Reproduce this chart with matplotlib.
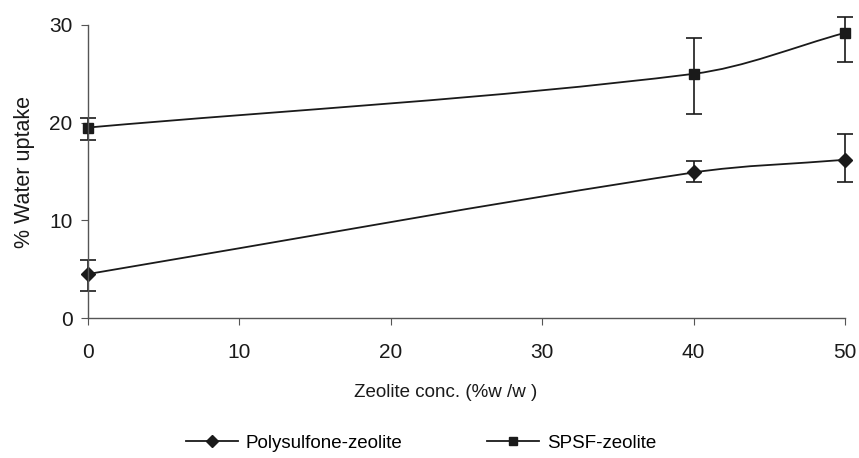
import numpy as np
import matplotlib.pyplot as plt
from matplotlib.path import Path
from matplotlib.patches import PathPatch

plt.rcParams['font.family'] = ['Liberation Sans', 'DejaVu Sans']

zeolite = [0, 40, 50]
poly = [4.5, 14.9, 16.2]
poly_err_lo = [1.7, 1.0, 2.3]
poly_err_hi = [1.4, 1.2, 2.6]
spsf = [19.5, 25.0, 29.2]
spsf_err_lo = [1.3, 4.1, 3.0]
spsf_err_hi = [1.0, 3.7, 1.6]

ink = '#1a1a1a'


def smooth_path(ax, xs, ys):
    # smoothed line like excel: bezier segments, computed in pixel space
    to_px = ax.transData
    pts = to_px.transform(np.column_stack([xs, ys]).astype(float))
    n = len(pts)
    verts = [pts[0]]
    codes = [Path.MOVETO]

    def tangent(i):
        d = pts[min(i + 1, n - 1)] - pts[max(i - 1, 0)]
        return d / np.hypot(*d)

    for i in range(n - 1):
        p1, p2 = pts[i], pts[i + 1]
        seg = np.hypot(*(p2 - p1)) / 3
        verts += [p1 + tangent(i) * seg, p2 - tangent(i + 1) * seg, p2]
        codes += [Path.CURVE4] * 3
    verts = to_px.inverted().transform(np.array(verts))
    return Path(verts, codes)


fig = plt.figure(figsize=(8.59, 4.58), dpi=100)
ax = fig.add_axes([88 / 859, 1 - 318 / 458, (845 - 88) / 859, (318 - 25) / 458])
ax.set_xlim(0, 50)
ax.set_ylim(0, 30)

for ys, lo, hi, mk, ms, name in [
    (poly, poly_err_lo, poly_err_hi, 'D', 7, 'Polysulfone-zeolite'),
    (spsf, spsf_err_lo, spsf_err_hi, 's', 7, 'SPSF-zeolite'),
]:
    ax.add_patch(PathPatch(smooth_path(ax, zeolite, ys), fill=False, edgecolor=ink, lw=1.3))
    ax.errorbar(zeolite, ys, yerr=[lo, hi], fmt='none', ecolor=ink, elinewidth=1.2,
                capsize=5.5, capthick=1.2, clip_on=False)
    ax.plot(zeolite, ys, linestyle='none', marker=mk, ms=ms, color=ink, clip_on=False)
    # legend proxy
    ax.plot([], [], color=ink, lw=1.3, marker=mk, ms=ms - 1, label=name)

ax.set_xticks([0, 10, 20, 30, 40, 50])
ax.set_yticks([0, 10, 20, 30])
ax.spines['top'].set_visible(False)
ax.spines['right'].set_visible(False)
for s in ['left', 'bottom']:
    ax.spines[s].set_color('#555555')
    ax.spines[s].set_linewidth(1.0)
ax.tick_params(axis='both', direction='out', length=5, color='#555555',
               labelsize=15, labelcolor=ink)
ax.tick_params(axis='x', pad=13)
ax.tick_params(axis='y', pad=6)

ax.set_xlabel('Zeolite conc. (%w /w )', fontsize=13.5, color=ink, labelpad=16)
ax.xaxis.label.set_x(0.473)
ax.set_ylabel('% Water uptake', fontsize=15.5, color=ink, labelpad=10)

fig.legend(loc='center', bbox_to_anchor=(0.49, 1 - 443 / 458), ncol=2, frameon=False,
           fontsize=13.5, columnspacing=4.5, handlelength=2.8, handletextpad=0.4)

fig.savefig('out.png', dpi=100)
